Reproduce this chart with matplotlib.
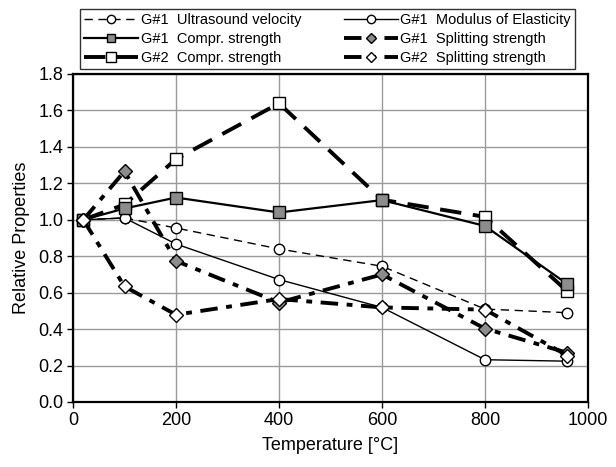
import matplotlib
matplotlib.use("Agg")
import matplotlib.pyplot as plt

plt.rcParams['font.family'] = ['Liberation Sans', 'DejaVu Sans']

temperature = [20, 100, 200, 400, 600, 800, 960]

g1_ultrasound = [1.00, 1.01, 0.955, 0.84, 0.745, 0.51, 0.49]
g1_modulus = [1.00, 1.01, 0.867, 0.672, 0.519, 0.232, 0.224]
g1_compr = [1.00, 1.062, 1.122, 1.040, 1.108, 0.966, 0.647]
g2_compr = [1.00, 1.084, 1.333, 1.639, 1.11, 1.016, 0.607]
g1_split = [1.00, 1.266, 0.774, 0.546, 0.70, 0.403, 0.27]
g2_split = [1.00, 0.634, 0.479, 0.565, 0.519, 0.507, 0.255]

labels = [
    "G#1  Ultrasound velocity",
    "G#1  Modulus of Elasticity",
    "G#1  Compr. strength",
    "G#1  Splitting strength",
    "G#2  Compr. strength",
    "G#2  Splitting strength",
]

gray = "#8c8c8c"

fig = plt.figure(figsize=(6.16, 4.67), dpi=100)
ax = fig.add_axes([73 / 616, 1 - 402 / 467, 515 / 616, 328 / 467])

h_us, = ax.plot(temperature, g1_ultrasound, color="black", lw=1.0,
                dashes=(6, 4), marker="o", ms=7.5, mfc="white", mec="black",
                mew=1.0, label=labels[0], zorder=3)
h_mod, = ax.plot(temperature, g1_modulus, color="black", lw=1.0,
                 ls="-", marker="o", ms=7.5, mfc="white", mec="black",
                 mew=1.0, label=labels[1], zorder=3)
h_c1, = ax.plot(temperature, g1_compr, color="black", lw=1.6,
                ls="-", marker="s", ms=8, mfc=gray, mec="black",
                mew=1.0, label=labels[2], zorder=4)
h_s1, = ax.plot(temperature, g1_split, color="black", lw=2.8,
                dashes=(4.5, 2.2, 1.5, 2.2), marker="D", ms=7, mfc=gray,
                mec="black", mew=1.0, label=labels[3], zorder=4)
h_c2, = ax.plot(temperature, g2_compr, color="black", lw=2.8,
                dashes=(5.5, 3), marker="s", ms=9, mfc="white", mec="black",
                mew=1.0, label=labels[4], zorder=3.5)
h_s2, = ax.plot(temperature, g2_split, color="black", lw=2.8,
                dashes=(4.5, 2.2, 1.5, 2.2), marker="D", ms=7, mfc="white",
                mec="black", mew=1.0, label=labels[5], zorder=4.5)

ax.set_xlim(0, 1000)
ax.set_ylim(0, 1.8)
ax.set_xticks(range(0, 1001, 200))
ax.set_yticks([i * 0.2 for i in range(10)])
ax.set_yticklabels([f"{i * 0.2:.1f}" for i in range(10)])
ax.grid(True, color="#9a9a9a", lw=1.0, zorder=0)
ax.set_axisbelow(True)
for s in ax.spines.values():
    s.set_linewidth(1.6)
    s.set_color("black")
ax.tick_params(direction="out", length=4, width=1.0, labelsize=13,
               colors="black", pad=3)
ax.set_xlabel("Temperature [°C]", fontsize=13, labelpad=6)
ax.set_ylabel("Relative Properties", fontsize=13, labelpad=6)

handles = [h_us, h_c1, h_c2, h_mod, h_s1, h_s2]
leg = fig.legend(handles=handles, labels=[h.get_label() for h in handles],
                 ncol=2, loc="upper left",
                 bbox_to_anchor=(80 / 616, 1 - 67 / 467, 495 / 616, 58 / 467),
                 mode="expand", fontsize=10.5, handlelength=3.7,
                 handletextpad=0.15, borderpad=0.3, labelspacing=0.32,
                 columnspacing=1.0, fancybox=False, frameon=True,
                 edgecolor="black", borderaxespad=0, markerscale=0.8)
leg.get_frame().set_linewidth(1.0)

fig.savefig("out.png", dpi=100)
